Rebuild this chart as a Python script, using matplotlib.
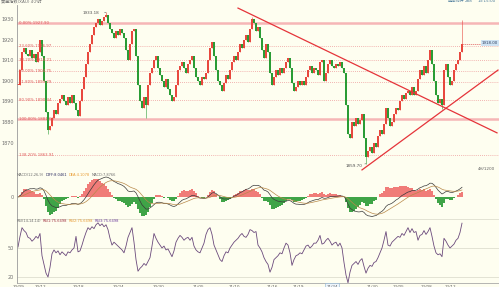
import numpy as np
import pandas as pd
import matplotlib.pyplot as plt

plt.rcParams['font.family'] = ['DejaVu Sans', 'Noto Sans CJK SC']

W, H = 499, 287

# 4h closes left to right
closes = [
    1898, 1905, 1914, 1916, 1913, 1912, 1915, 1911, 1913, 1909,
    1914, 1920, 1912, 1900, 1885, 1876, 1878, 1882, 1886, 1884,
    1889, 1891, 1893, 1890, 1888, 1892, 1889, 1893, 1889, 1886,
    1883, 1890, 1896, 1902, 1908, 1914, 1918, 1922, 1926, 1928,
    1930, 1927, 1929, 1931, 1932, 1928, 1925, 1923, 1921, 1924,
    1922, 1925, 1923, 1921, 1915, 1910, 1918, 1924, 1925, 1912,
    1898, 1890, 1887, 1892, 1888, 1898, 1904, 1906, 1910, 1912,
    1906, 1903, 1900, 1897, 1901, 1896, 1893, 1890, 1892, 1898,
    1905, 1907, 1909, 1906, 1904, 1908, 1910, 1912, 1906, 1902,
    1900, 1898, 1902, 1901, 1904, 1910, 1916, 1919, 1912, 1905,
    1900, 1898, 1895, 1899, 1903, 1901, 1905, 1909, 1912, 1910,
    1914, 1918, 1916, 1920, 1922, 1919, 1925, 1930, 1928, 1924,
    1926, 1921, 1915, 1911, 1918, 1914, 1904, 1898, 1902, 1905,
    1903, 1906, 1904, 1906, 1909, 1911, 1906, 1899, 1895, 1897,
    1900, 1898, 1900, 1898, 1902, 1905, 1907, 1904, 1906, 1905,
    1903, 1909, 1910, 1900, 1904, 1908, 1910, 1907, 1906, 1908,
    1907, 1909, 1906, 1904, 1888, 1874, 1872, 1880, 1878, 1882,
    1879, 1881, 1884, 1872, 1863, 1866, 1868, 1865, 1870, 1868,
    1873, 1876, 1874, 1879, 1887, 1882, 1878, 1880, 1884, 1887,
    1886, 1890, 1893, 1891, 1894, 1895, 1893, 1897, 1893, 1895,
    1901, 1905, 1903, 1907, 1904, 1910, 1915, 1908, 1900, 1893,
    1889, 1891, 1888, 1905, 1908, 1902, 1898, 1900, 1905, 1908,
    1910, 1914, 1918,
]
wick_high = {44: 1933.18, 117: 1931.0, 222: 1929.5}
wick_low = {15: 1874.0, 64: 1882.0, 174: 1859.7, 212: 1886.5}

# RSI(14) as drawn in the lower panel, one value per candle
rsi_vals = [
    51, 62, 71, 68, 66, 61, 60, 57, 59, 62,
    60, 65, 42, 33, 24, 20, 30, 44, 48, 45,
    47, 43, 46, 44, 42, 46, 45, 48, 50, 62,
    46, 47, 53, 60, 66, 71, 69, 72, 70, 74,
    76, 73, 75, 72, 74, 69, 60, 53, 56, 54,
    52, 50, 48, 45, 52, 61, 66, 71, 56, 38,
    26, 29, 31, 34, 32, 36, 40, 52, 65, 60,
    56, 53, 50, 52, 48, 49, 45, 41, 47, 56,
    60, 63, 61, 58, 60, 61, 58, 61, 52, 48,
    46, 45, 50, 55, 64, 69, 71, 64, 53, 48,
    43, 38, 36, 42, 46, 45, 50, 53, 56, 58,
    60, 63, 65, 62, 61, 64, 69, 68, 66, 67,
    53, 50, 46, 40, 36, 33, 25, 30, 38, 40,
    42, 45, 44, 50, 55, 53, 45, 32, 38, 42,
    43, 45, 44, 48, 52, 53, 50, 52, 55, 55,
    58, 63, 54, 55, 58, 60, 57, 53, 55, 56,
    52, 55, 50, 35, 22, 14, 25, 32, 34, 36,
    33, 37, 39, 31, 24, 29, 32, 31, 35, 36,
    40, 45, 50, 58, 67, 53, 52, 56, 58, 60,
    62, 61, 65, 63, 67, 71, 66, 70, 66, 67,
    58, 63, 64, 68, 64, 67, 71, 62, 52, 45,
    43, 44, 41, 60, 57, 53, 50, 52, 54, 58,
    60, 66, 75.65,
]

fib_pcts = [0.0, 23.6, 38.2, 50.0, 61.8, 80.9, 100.0, 138.2]
fib_high = 1927.90
fib_low = 1881.60

trend_down_x = [110, 239.5]
trend_down_y = [1935.3, 1874.7]
trend_up_x = [172, 240]
trend_up_y = [1856.7, 1905.2]

price_ticks = [1870, 1880, 1890, 1900, 1910, 1920, 1930]
rsi_ticks = [20, 50]
date_pos = [0, 11, 30, 50, 70, 90, 108, 127, 140, 157, 177, 190, 204, 216]
date_labels = ['10/09', '10/12', '10/18', '10/24', '10/30', '11/05', '11/10',
               '11/16', '11/19', '11/24', '11/30', '12/05', '12/08', '12/12']

BG = '#fefef0'
UP = '#e8483e'
DN = '#2a9c35'


def box(x0, y0, x1, y1):
    return [x0 / W, 1 - y1 / H, (x1 - x0) / W, (y1 - y0) / H]


def ftext(x, y, s, **kw):
    return fig.text(x / W, 1 - y / H, s, **kw)


def text_row(x, y, parts, fs):
    r = fig.canvas.get_renderer()
    for s, col in parts:
        t = ftext(x, y, s, fontsize=fs, color=col, va='center')
        x += t.get_window_extent(r).width + 1.5


fig = plt.figure(figsize=(W / 100, H / 100), dpi=100, facecolor=BG)
ax = fig.add_axes(box(17, 5, 499, 173), facecolor=BG)
ax2 = fig.add_axes(box(17, 173, 499, 218), facecolor=BG, sharex=ax)
ax3 = fig.add_axes(box(17, 218, 499, 283), facecolor=BG, sharex=ax)

for a in (ax, ax2, ax3):
    for sp in ('top', 'right'):
        a.spines[sp].set_visible(False)
    a.spines['left'].set_color('#9a9a9a')
    a.spines['bottom'].set_color('#a8a8a8')
    a.spines['left'].set_linewidth(0.6)
    a.spines['bottom'].set_linewidth(0.6)
    a.tick_params(axis='y', length=0, pad=2, labelsize=3.5, labelcolor='#707070')
    a.tick_params(axis='x', length=0, labelbottom=False)

# candles
c = np.array(closes, float)
o = np.r_[c[0], c[:-1]]
hi = np.maximum(o, c)
lo = np.minimum(o, c)
for k, v in wick_high.items():
    hi[k] = v
for k, v in wick_low.items():
    lo[k] = v
idx = np.arange(len(c))
cols = np.where(c >= o, UP, DN)
ax.vlines(idx, lo, hi, colors=cols, lw=0.4)
ax.bar(idx, np.maximum(np.abs(c - o), 0.4), bottom=np.minimum(o, c),
       width=0.55, color=cols, linewidth=0)

# fibonacci levels
for p in fib_pcts:
    lvl = fib_high - (fib_high - fib_low) * p / 100
    if p in (0.0, 100.0):
        ax.axhline(lvl, color='#f6b6b6', lw=1.8, zorder=0)
    else:
        ax.axhline(lvl, color='#ee9c9c', lw=0.6, ls=(0, (1, 1.5)), zorder=0)
    ax.text(0.5, lvl, f'{p:.2f}% {lvl:.2f}', fontsize=2.8, color='#e05a5a',
            va='center', ha='left')

ax.plot(trend_down_x, trend_down_y, color='#e5343a', lw=0.9)
ax.plot(trend_up_x, trend_up_y, color='#e5343a', lw=0.9)

# extremes
ax.annotate('1933.18', xy=(44, wick_high[44]), xytext=(40.5, wick_high[44] - 0.2),
            fontsize=3, color='#505050', ha='right', va='center',
            arrowprops=dict(arrowstyle='-', color='#505050', lw=0.4))
ax.annotate('1859.70', xy=(174, wick_low[174]), xytext=(172, wick_low[174] - 1.1),
            fontsize=3, color='#505050', ha='right', va='center',
            arrowprops=dict(arrowstyle='-', color='#505050', lw=0.4))

# last price marker
ax.plot([idx[-1], 233], [c[-1], c[-1]], color='#e06060', lw=0.5, ls=(0, (2, 1)))
ftext(490, 43, f'{c[-1]:.2f}', fontsize=2.8, color='#304060', ha='center', va='center',
      bbox=dict(boxstyle='square,pad=0.25', fc='#cfe3f3', ec='none'))
ftext(495, 169, '4H/1200', fontsize=3, color='#606060', ha='right', va='center')

ax.set_xlim(-0.5, 240.5)
ax.set_ylim(1855.2, 1936.8)
ax.set_yticks(price_ticks)

# MACD
s = pd.Series(c)
dif = s.ewm(span=12, adjust=False).mean() - s.ewm(span=26, adjust=False).mean()
dea = dif.ewm(span=9, adjust=False).mean()
hist = 2 * (dif - dea)
ax2.bar(idx, hist, width=0.7, color=np.where(hist >= 0, '#f07c78', '#3fa447'), linewidth=0)
ax2.plot(idx, dif, color='#3a3a3a', lw=0.5)
ax2.plot(idx, dea, color='#b8894a', lw=0.5)
m = max(np.abs(hist).max(), np.abs(dif).max(), np.abs(dea).max())
ax2.set_ylim(-1.05 * m, 1.2 * m)
ax2.set_yticks([0])

# RSI
for g in (20, 50, 80):
    ax3.axhline(g, color='#d8d8c8', lw=0.5, zorder=0)
ax3.plot(np.arange(len(rsi_vals)), rsi_vals, color='#6b4a7c', lw=0.6)
ax3.set_ylim(13.8, 81)
ax3.set_yticks(rsi_ticks)

# panel captions
text_row(17, 175.5, [('MACD(12,26,9)', '#707070'), ('DIFF:8.0461', '#2a2a60'),
                     ('DEA:4.1078', '#e89a30'), ('MACD:7.8766', '#707070')], 2.6)
text_row(17, 220.5, [('RSI(14,14,14)', '#707070'), ('RSI1:75.6498', '#a03040'),
                     ('RSI2:75.6498', '#e89a30'), ('RSI3:75.6498', '#7040a0')], 2.6)

# header and date strip (cut by the frame edge)
ftext(1, 1, '黄金指数(XAU) 4小时', fontsize=3, color='#707070', va='center')
ftext(448, 1, '区间统计', fontsize=3, color='#4a7a9a', va='center')
ftext(465, 1, '288', fontsize=3, color='#4a7a9a', va='center')
ftext(478, 1, '13:15:00', fontsize=3, color='#4a7a9a', va='center')
for p, lab in zip(date_pos, date_labels):
    kw = {}
    if p == 157:
        kw['bbox'] = dict(boxstyle='square,pad=0.3', fc='#eef5fb', ec='#8ab0d0', lw=0.4)
    ftext(18 + 2 * p, 284.5, lab, fontsize=3, color='#606060', ha='center', va='top', **kw)

fig.savefig('out.png', dpi=100, facecolor=BG)
